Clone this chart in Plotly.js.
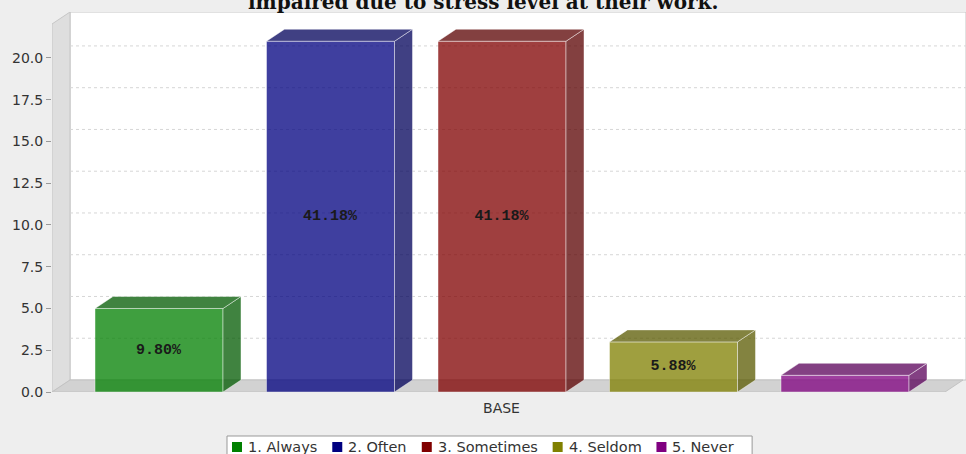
<!DOCTYPE html>
<html>
<head>
<meta charset="utf-8">
<script src="https://cdn.plot.ly/plotly-3.0.1.min.js"></script>
<style>
  html, body { margin: 0; padding: 0; background: #eeeeee; }
  #chart { width: 966px; height: 454px; }
</style>
</head>
<body>
<div id="chart"></div>
<script>
// ---- data ----
const titleText = 'impaired due to stress level at their work.';
const categories = ['BASE'];
const seriesNames = ['1. Always', '2. Often', '3. Sometimes', '4. Seldom', '5. Never'];
const counts = [5, 21, 21, 3, 1];
const yTickValues = [0, 2.5, 5, 7.5, 10, 12.5, 15, 17.5, 20];

// ---- style / geometry ----
const seriesRGB = [[0, 128, 0], [0, 0, 128], [128, 0, 0], [128, 128, 0], [128, 0, 128]];
const FACE_ALPHA = 0.75;
const M_LEFT = 52, M_TOP = 12;
const PLOT_W = 914, PLOT_H = 380;          // plot area in px (x axis works in px units)
const Y_MAX = 22.75;                       // value at top edge of plot area
const PX_PER_UNIT = PLOT_H / Y_MAX;
const DEPTH_X = 18;                        // 3D depth offset, x units
const DEPTH_Y = 12 / PX_PER_UNIT;          // 3D depth offset, value units
const FLOOR_LEN = 893;                     // front edge of category axis
const LOWER_MARGIN = 43, BAR_W = 128, BAR_GAP = 43.5;
const LEGEND_FONT = { family: 'DejaVu Sans', size: 14.5, color: '#333333' };

const total = counts.reduce((a, b) => a + b, 0);
const rgba = (c, a) => `rgba(${c[0]},${c[1]},${c[2]},${a})`;
const darker = c => c.map(v => Math.floor(v * 0.7));
const EDGE = 'rgba(255,255,255,0.45)';

// pixel -> paper helpers for the legend block under the plot
const pxX = px => (px - M_LEFT) / PLOT_W;
const pxY = py => (M_TOP + PLOT_H - py) / PLOT_H;

const traces = [];
const faces = [];
seriesNames.forEach((name, i) => {
  const v = counts[i];
  const x0 = LOWER_MARGIN + i * (BAR_W + BAR_GAP);
  const x1 = x0 + BAR_W;
  const col = seriesRGB[i];
  // front face
  traces.push({
    type: 'bar',
    name: name,
    showlegend: false,
    x: [x0 + BAR_W / 2],
    y: [v],
    width: [BAR_W],
    text: [(v / total * 100).toFixed(2) + '%'],
    textposition: 'inside',
    insidetextanchor: 'middle',
    textangle: 0,
    textfont: { family: 'Liberation Mono', size: 15, weight: 'bold', color: '#1a1a1a' },
    marker: { color: rgba(col, 1), opacity: FACE_ALPHA, line: { color: EDGE, width: 1 } },
    hoverinfo: 'name+y',
    cliponaxis: false
  });
  const dc = darker(col);
  // right side face
  faces.push({
    type: 'scatter', mode: 'lines', fill: 'toself', showlegend: false, hoverinfo: 'skip',
    x: [x1, x1, x1 + DEPTH_X, x1 + DEPTH_X, x1],
    y: [0, v, v + DEPTH_Y, DEPTH_Y, 0],
    fillcolor: rgba(dc, FACE_ALPHA), line: { color: EDGE, width: 1 }
  });
  // top face
  faces.push({
    type: 'scatter', mode: 'lines', fill: 'toself', showlegend: false, hoverinfo: 'skip',
    x: [x0, x1, x1 + DEPTH_X, x0 + DEPTH_X, x0],
    y: [v, v, v + DEPTH_Y, v + DEPTH_Y, v],
    fillcolor: rgba(dc, FACE_ALPHA), line: { color: EDGE, width: 1 }
  });
});

// back wall, side wall, floor and gridlines
const shapes = [
  { type: 'rect', xref: 'x', yref: 'y', layer: 'below',
    x0: DEPTH_X, x1: PLOT_W, y0: DEPTH_Y, y1: Y_MAX,
    fillcolor: '#ffffff', line: { color: '#c4c4c4', width: 1 } },
  { type: 'path', xref: 'x', yref: 'y', layer: 'below',
    path: `M0,0 L0,${Y_MAX - DEPTH_Y} L${DEPTH_X},${Y_MAX} L${DEPTH_X},${DEPTH_Y} Z`,
    fillcolor: '#dedede', line: { color: '#c6c6c6', width: 1 } },
  { type: 'path', xref: 'x', yref: 'y', layer: 'below',
    path: `M0,0 L${FLOOR_LEN},0 L${FLOOR_LEN + DEPTH_X},${DEPTH_Y} L${DEPTH_X},${DEPTH_Y} Z`,
    fillcolor: '#d2d2d2', line: { color: '#c2c2c2', width: 1 } }
];
yTickValues.filter(v => v > 0).forEach(v => {
  shapes.push({ type: 'line', xref: 'x', yref: 'y', layer: 'below',
    x0: DEPTH_X, x1: PLOT_W, y0: v + DEPTH_Y, y1: v + DEPTH_Y,
    line: { color: '#d6d6d6', width: 1, dash: '3px,3px' } });
});

const annotations = [{
  text: titleText, xref: 'paper', yref: 'paper',
  x: pxX(483), y: 1 + 10 / PLOT_H, xanchor: 'center', yanchor: 'middle', showarrow: false,
  font: { family: 'DejaVu Serif', size: 20, weight: 'bold', color: '#111111' }
}];

// compact legend row: swatch + label per series, inside a bordered box
const ctx = document.createElement('canvas').getContext('2d');
ctx.font = `${LEGEND_FONT.size}px "${LEGEND_FONT.family}"`;
const LEG_LEFT = 227, LEG_TOP = 436, SWATCH = 10, SW_GAP = 6, ITEM_GAP = 15, ROW_MID = 447;
const legendItems = [];
let cx = LEG_LEFT + 5;
seriesNames.forEach((name, i) => {
  legendItems.push({ type: 'rect', xref: 'paper', yref: 'paper',
    x0: pxX(cx), x1: pxX(cx + SWATCH), y0: pxY(ROW_MID - 5), y1: pxY(ROW_MID + 5),
    fillcolor: rgba(seriesRGB[i], 1), line: { width: 0 } });
  annotations.push({ text: name, xref: 'paper', yref: 'paper',
    x: pxX(cx + SWATCH + SW_GAP - 2), y: pxY(ROW_MID), xanchor: 'left', yanchor: 'middle',
    showarrow: false, font: LEGEND_FONT });
  cx += SWATCH + SW_GAP + ctx.measureText(name).width + ITEM_GAP;
});
shapes.push({ type: 'rect', xref: 'paper', yref: 'paper',
  x0: pxX(LEG_LEFT), x1: pxX(cx - ITEM_GAP + 18), y0: pxY(LEG_TOP), y1: pxY(LEG_TOP + 30),
  fillcolor: '#ffffff', line: { color: '#999999', width: 1 } });
shapes.push(...legendItems);

const layout = {
  width: 966, height: 454,
  margin: { l: M_LEFT, r: 0, t: M_TOP, b: 454 - M_TOP - PLOT_H, pad: 0, autoexpand: false },
  paper_bgcolor: '#eeeeee',
  plot_bgcolor: 'rgba(0,0,0,0)',
  showlegend: false,
  barmode: 'overlay',
  uniformtext: { mode: 'hide', minsize: 15 },
  font: { family: 'DejaVu Sans', size: 14, color: '#444444' },
  xaxis: {
    range: [0, PLOT_W], fixedrange: true,
    showgrid: false, zeroline: false, showline: false,
    tickvals: [FLOOR_LEN / 2 + 3], ticktext: categories,
    ticks: '', ticklabelstandoff: 6,
    tickfont: { family: 'DejaVu Sans', size: 14, color: '#333333' }
  },
  yaxis: {
    range: [0, Y_MAX], fixedrange: true,
    showgrid: false, zeroline: false, showline: false,
    tickvals: yTickValues, tickformat: '.1f',
    ticks: 'outside', ticklen: 5, tickcolor: '#999999', tickwidth: 1,
    tickfont: { family: 'DejaVu Sans', size: 14, color: '#333333' }
  },
  shapes: shapes,
  annotations: annotations
};

Plotly.newPlot('chart', traces.concat(faces), layout, { displayModeBar: false, staticPlot: true });
</script>
</body>
</html>
